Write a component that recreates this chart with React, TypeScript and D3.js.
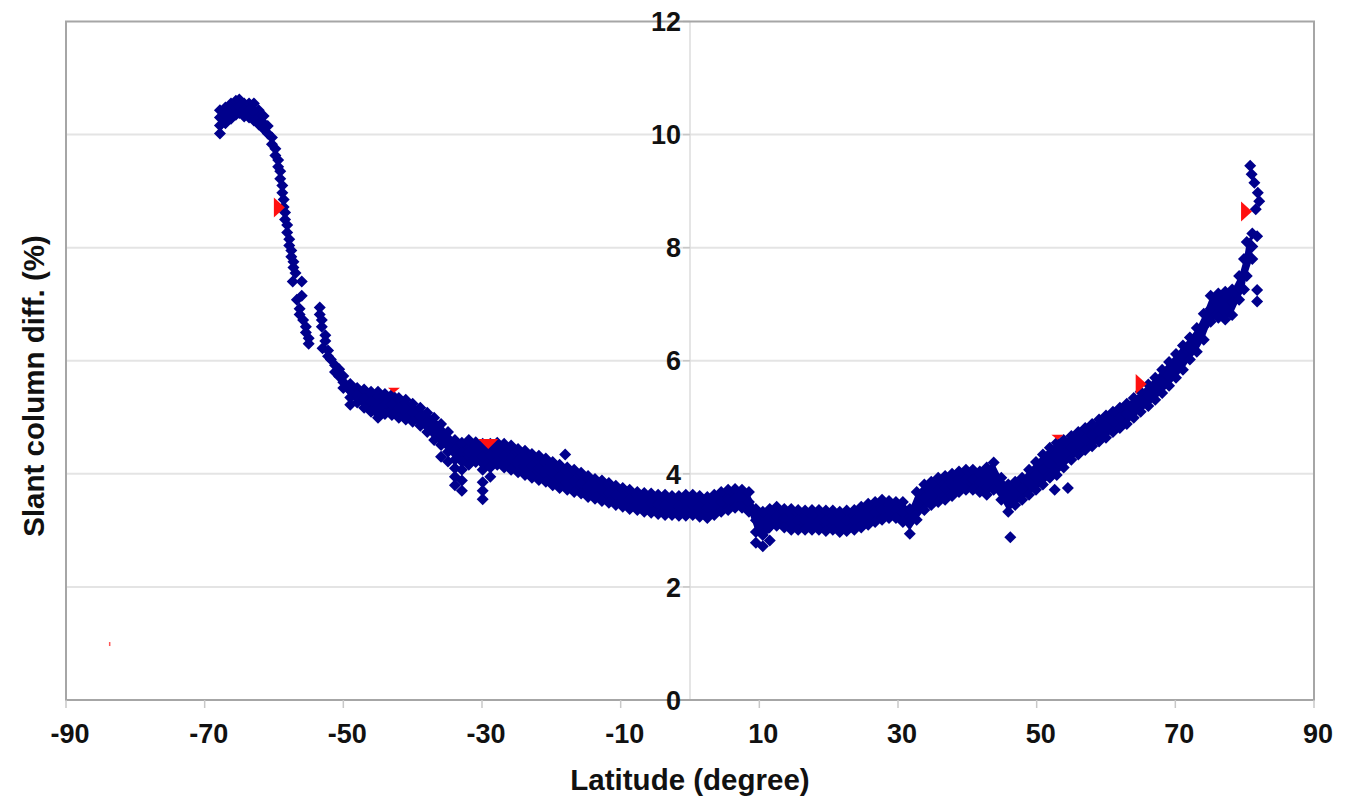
import React from 'react';
import * as d3 from 'd3';

const W = 1352;
const H = 801;

const xTicks = [-90, -70, -50, -30, -10, 10, 30, 50, 70, 90];
const yTicks = [0, 2, 4, 6, 8, 10, 12];
const yGrid = [2, 4, 6, 8, 10];
const xTitle = 'Latitude (degree)';
const yTitle = 'Slant column diff. (%)';

// Blue series: latitude -> values (several per latitude where the cloud is thick)
const slantColumns: [number, number[]][] = [
  [-67.8, [10.43, 10.30, 10.16, 10.02]],
  [-67.0, [10.48, 10.34, 10.20]],
  [-66.2, [10.55, 10.42, 10.28]],
  [-65.5, [10.60, 10.47, 10.35]],
  [-65.0, [10.62, 10.50, 10.38]],
  [-64.3, [10.55, 10.43, 10.32]],
  [-63.6, [10.55, 10.42, 10.30]],
  [-62.9, [10.55, 10.40, 10.25]],
  [-62.2, [10.43, 10.30, 10.18]],
  [-61.5, [10.33, 10.20, 10.10]],
  [-60.9, [10.15, 10.02]],
  [-60.3, [9.95, 9.83]],
  [-59.8, [9.75, 9.63]],
  [-59.4, [9.55, 9.43]],
  [-59.1, [9.35, 9.22]],
  [-58.8, [9.10, 8.97]],
  [-58.6, [8.85, 8.72]],
  [-58.4, [8.62, 8.50]],
  [-58.1, [8.40, 8.27]],
  [-57.8, [8.15, 8.04]],
  [-57.5, [7.95, 7.84]],
  [-57.2, [7.75, 7.65]],
  [-56.9, [7.55]],
  [-57.3, [7.40]],
  [-56.0, [7.40, 7.15]],
  [-56.7, [7.08]],
  [-56.3, [6.92, 6.82]],
  [-55.8, [6.72]],
  [-55.4, [6.60, 6.50]],
  [-55.0, [6.40, 6.30]],
  [-53.4, [6.94, 6.82]],
  [-53.1, [6.72, 6.60]],
  [-52.6, [6.45, 6.35]],
  [-53.0, [6.22]],
  [-52.2, [6.18, 6.08]],
  [-51.8, [6.02]],
  [-51.2, [5.92, 5.80]],
  [-50.6, [5.85, 5.72]],
  [-50.0, [5.73, 5.62, 5.52]],
  [-49.0, [5.59, 5.47, 5.35, 5.22]],
  [-48.0, [5.52, 5.39, 5.26]],
  [-47.0, [5.49, 5.33, 5.17]],
  [-46.0, [5.45, 5.28, 5.10]],
  [-45.0, [5.45, 5.25, 5.06, 4.99]],
  [-44.0, [5.41, 5.23, 5.06]],
  [-43.0, [5.40, 5.22, 5.04]],
  [-42.0, [5.34, 5.16, 4.99]],
  [-41.0, [5.31, 5.13, 4.96]],
  [-40.0, [5.24, 5.08, 4.92]],
  [-38.9, [5.17, 5.01, 4.85]],
  [-37.9, [5.08, 4.91, 4.74]],
  [-36.9, [4.99, 4.80, 4.60]],
  [-35.9, [4.88, 4.70, 4.51, 4.30]],
  [-34.9, [4.74, 4.56, 4.39, 4.22]],
  [-33.9, [4.60, 4.42, 4.25, 4.10, 3.95, 3.80]],
  [-32.9, [4.55, 4.38, 4.22, 4.07, 3.88, 3.70]],
  [-31.9, [4.60, 4.38, 4.16]],
  [-30.9, [4.56, 4.38, 4.21]],
  [-29.9, [4.53, 4.30, 4.07, 3.85, 3.70, 3.55]],
  [-28.8, [4.53, 4.32, 4.11, 3.95]],
  [-27.8, [4.55, 4.35, 4.16]],
  [-26.8, [4.53, 4.32, 4.11]],
  [-25.8, [4.50, 4.28, 4.07]],
  [-24.8, [4.44, 4.23, 4.03]],
  [-23.8, [4.41, 4.20, 3.98]],
  [-22.8, [4.35, 4.14, 3.93]],
  [-21.8, [4.32, 4.10, 3.89]],
  [-20.8, [4.27, 4.06, 3.86]],
  [-19.8, [4.21, 4.00, 3.80]],
  [-18.8, [4.16, 3.95, 3.75]],
  [-18.0, [4.34]],
  [-17.7, [4.11, 3.91, 3.72]],
  [-16.7, [4.07, 3.87, 3.68]],
  [-15.7, [4.02, 3.83, 3.65]],
  [-14.7, [3.96, 3.77, 3.59]],
  [-13.7, [3.91, 3.73, 3.56]],
  [-12.7, [3.88, 3.70, 3.52]],
  [-11.7, [3.84, 3.66, 3.49]],
  [-10.7, [3.79, 3.62, 3.45]],
  [-9.7, [3.75, 3.58, 3.42]],
  [-8.7, [3.72, 3.55, 3.38]],
  [-7.6, [3.68, 3.52, 3.36]],
  [-6.6, [3.66, 3.50, 3.33]],
  [-5.6, [3.65, 3.48, 3.31]],
  [-4.6, [3.63, 3.46, 3.29]],
  [-3.6, [3.63, 3.45, 3.27]],
  [-2.6, [3.61, 3.44, 3.27]],
  [-1.6, [3.61, 3.43, 3.26]],
  [-0.6, [3.63, 3.44, 3.26]],
  [0.4, [3.63, 3.45, 3.27]],
  [1.4, [3.61, 3.42, 3.24]],
  [2.5, [3.59, 3.40, 3.22]],
  [3.5, [3.63, 3.45, 3.27]],
  [4.5, [3.68, 3.50, 3.33]],
  [5.5, [3.72, 3.54, 3.36]],
  [6.5, [3.73, 3.56, 3.40]],
  [7.5, [3.72, 3.56, 3.40]],
  [8.5, [3.68, 3.50, 3.33]],
  [9.5, [3.38, 3.18, 2.97, 2.78]],
  [10.5, [3.33, 3.12, 2.92, 2.72]],
  [11.5, [3.38, 3.10, 2.82]],
  [12.5, [3.42, 3.25, 3.08]],
  [13.6, [3.38, 3.21, 3.05]],
  [14.6, [3.38, 3.20, 3.01]],
  [15.6, [3.36, 3.18, 3.01]],
  [16.6, [3.35, 3.18, 3.01]],
  [17.6, [3.36, 3.18, 3.01]],
  [18.6, [3.36, 3.18, 3.01]],
  [19.6, [3.35, 3.17, 2.99]],
  [20.6, [3.35, 3.18, 3.01]],
  [21.6, [3.33, 3.15, 2.97]],
  [22.6, [3.35, 3.17, 2.99]],
  [23.7, [3.36, 3.18, 3.01]],
  [24.7, [3.42, 3.23, 3.05]],
  [25.7, [3.47, 3.28, 3.10]],
  [26.7, [3.50, 3.32, 3.15]],
  [27.7, [3.54, 3.36, 3.19]],
  [28.7, [3.52, 3.37, 3.22]],
  [29.7, [3.50, 3.36, 3.22]],
  [30.7, [3.50, 3.32, 3.15]],
  [31.7, [3.38, 3.15, 2.94]],
  [32.7, [3.68, 3.44, 3.19]],
  [33.8, [3.81, 3.58, 3.36]],
  [34.8, [3.86, 3.65, 3.45]],
  [35.8, [3.93, 3.72, 3.50]],
  [36.8, [3.96, 3.75, 3.54]],
  [37.8, [4.00, 3.80, 3.61]],
  [38.8, [4.04, 3.86, 3.68]],
  [39.8, [4.07, 3.90, 3.72]],
  [40.8, [4.07, 3.90, 3.72]],
  [41.8, [4.04, 3.86, 3.68]],
  [42.8, [4.11, 3.87, 3.63]],
  [43.8, [4.20, 3.96, 3.72]],
  [44.9, [3.93, 3.73, 3.54]],
  [45.9, [3.81, 3.57, 3.33]],
  [46.2, [2.88]],
  [46.9, [3.86, 3.65, 3.45]],
  [47.9, [3.93, 3.73, 3.54]],
  [48.9, [4.07, 3.85, 3.63]],
  [49.9, [4.21, 3.96, 3.72]],
  [50.9, [4.34, 4.08, 3.81]],
  [51.9, [4.46, 4.20, 3.93]],
  [52.6, [3.72]],
  [52.9, [4.55, 4.27, 3.98]],
  [53.9, [4.60, 4.35, 4.11]],
  [54.5, [3.75]],
  [55.0, [4.67, 4.46, 4.25]],
  [56.0, [4.74, 4.54, 4.34]],
  [57.0, [4.81, 4.62, 4.42]],
  [58.0, [4.88, 4.68, 4.49]],
  [59.0, [4.96, 4.76, 4.57]],
  [60.0, [5.03, 4.84, 4.64]],
  [61.0, [5.10, 4.92, 4.74]],
  [62.0, [5.17, 4.99, 4.81]],
  [63.0, [5.24, 5.06, 4.88]],
  [64.0, [5.34, 5.16, 4.99]],
  [65.0, [5.45, 5.27, 5.10]],
  [66.1, [5.58, 5.39, 5.20]],
  [67.1, [5.70, 5.50, 5.31]],
  [68.1, [5.84, 5.63, 5.43]],
  [69.1, [5.98, 5.77, 5.56]],
  [70.1, [6.12, 5.91, 5.70]],
  [71.1, [6.27, 6.05, 5.84]],
  [72.1, [6.41, 6.22, 6.02]],
  [73.1, [6.58, 6.37, 6.16]],
  [74.1, [6.83, 6.60, 6.37]],
  [75.1, [7.15, 6.92, 6.69]],
  [76.2, [7.19, 6.97, 6.76]],
  [77.2, [7.22, 6.97, 6.73]],
  [78.2, [7.26, 7.04, 6.81]],
  [79.2, [7.50, 7.29, 7.08]],
  [79.9, [7.80, 7.53, 7.26]],
  [80.3, [8.10, 7.80, 7.50]],
  [81.1, [8.25, 8.02, 7.80]],
  [81.8, [8.20, 7.25, 7.05]],
  [80.8, [9.45]],
  [81.0, [9.30]],
  [81.4, [9.15]],
  [81.9, [8.97]],
  [82.1, [8.82]],
  [81.6, [8.68]],
];

// Outline of the densest part of the point cloud: [latitude, top, bottom]
const cloudTopCluster: [number, number, number][] = [
  [-67.8, 10.43, 10.02], [-67.0, 10.48, 10.20], [-66.2, 10.55, 10.28], [-65.5, 10.60, 10.35],
  [-65.0, 10.62, 10.38], [-64.3, 10.55, 10.32], [-63.6, 10.55, 10.30], [-62.9, 10.55, 10.25],
  [-62.2, 10.43, 10.18], [-61.5, 10.33, 10.10], [-60.9, 10.15, 10.02],
];
const cloudMain: [number, number, number][] = [
  [-50.6, 5.85, 5.72], [-50.0, 5.73, 5.52], [-49.0, 5.59, 5.35], [-48.0, 5.52, 5.26], [-47.0, 5.49, 5.17],
  [-46.0, 5.45, 5.10], [-45.0, 5.45, 5.06], [-44.0, 5.41, 5.06], [-43.0, 5.40, 5.04], [-42.0, 5.34, 4.99],
  [-41.0, 5.31, 4.96], [-40.0, 5.24, 4.92], [-38.9, 5.17, 4.85], [-37.9, 5.08, 4.74], [-36.9, 4.99, 4.60],
  [-35.9, 4.88, 4.51], [-34.9, 4.74, 4.39], [-33.9, 4.60, 4.25], [-32.9, 4.55, 4.22], [-31.9, 4.60, 4.16],
  [-30.9, 4.56, 4.21], [-29.9, 4.53, 4.07], [-28.8, 4.53, 4.11], [-27.8, 4.55, 4.16], [-26.8, 4.53, 4.11],
  [-25.8, 4.50, 4.07], [-24.8, 4.44, 4.03], [-23.8, 4.41, 3.98], [-22.8, 4.35, 3.93], [-21.8, 4.32, 3.89],
  [-20.8, 4.27, 3.86], [-19.8, 4.21, 3.80], [-18.8, 4.16, 3.75], [-17.7, 4.11, 3.72], [-16.7, 4.07, 3.68],
  [-15.7, 4.02, 3.65], [-14.7, 3.96, 3.59], [-13.7, 3.91, 3.56], [-12.7, 3.88, 3.52], [-11.7, 3.84, 3.49],
  [-10.7, 3.79, 3.45], [-9.7, 3.75, 3.42], [-8.7, 3.72, 3.38], [-7.6, 3.68, 3.36], [-6.6, 3.66, 3.33],
  [-5.6, 3.65, 3.31], [-4.6, 3.63, 3.29], [-3.6, 3.63, 3.27], [-2.6, 3.61, 3.27], [-1.6, 3.61, 3.26],
  [-0.6, 3.63, 3.26], [0.4, 3.63, 3.27], [1.4, 3.61, 3.24], [2.5, 3.59, 3.22], [3.5, 3.63, 3.27],
  [4.5, 3.68, 3.33], [5.5, 3.72, 3.36], [6.5, 3.73, 3.40], [7.5, 3.72, 3.40], [8.5, 3.68, 3.33],
  [9.5, 3.38, 2.97], [10.5, 3.33, 2.92], [11.5, 3.38, 2.95], [12.5, 3.42, 3.08], [13.6, 3.38, 3.05],
  [14.6, 3.38, 3.01], [15.6, 3.36, 3.01], [16.6, 3.35, 3.01], [17.6, 3.36, 3.01], [18.6, 3.36, 3.01],
  [19.6, 3.35, 2.99], [20.6, 3.35, 3.01], [21.6, 3.33, 2.97], [22.6, 3.35, 2.99], [23.7, 3.36, 3.01],
  [24.7, 3.42, 3.05], [25.7, 3.47, 3.10], [26.7, 3.50, 3.15], [27.7, 3.54, 3.19], [28.7, 3.52, 3.22],
  [29.7, 3.50, 3.22], [30.7, 3.50, 3.15], [31.7, 3.38, 3.00], [32.7, 3.68, 3.19], [33.8, 3.81, 3.36],
  [34.8, 3.86, 3.45], [35.8, 3.93, 3.50], [36.8, 3.96, 3.54], [37.8, 4.00, 3.61], [38.8, 4.04, 3.68],
  [39.8, 4.07, 3.72], [40.8, 4.07, 3.72], [41.8, 4.04, 3.68], [42.8, 4.11, 3.63], [43.8, 4.20, 3.72],
  [44.9, 3.93, 3.54], [45.9, 3.81, 3.33], [46.9, 3.86, 3.45], [47.9, 3.93, 3.54], [48.9, 4.07, 3.63],
  [49.9, 4.21, 3.72], [50.9, 4.34, 3.81], [51.9, 4.46, 3.93], [52.9, 4.55, 3.98], [53.9, 4.60, 4.11],
  [55.0, 4.67, 4.25], [56.0, 4.74, 4.34], [57.0, 4.81, 4.42], [58.0, 4.88, 4.49], [59.0, 4.96, 4.57],
  [60.0, 5.03, 4.64], [61.0, 5.10, 4.74], [62.0, 5.17, 4.81], [63.0, 5.24, 4.88], [64.0, 5.34, 4.99],
  [65.0, 5.45, 5.10], [66.1, 5.58, 5.20], [67.1, 5.70, 5.31], [68.1, 5.84, 5.43], [69.1, 5.98, 5.56],
  [70.1, 6.12, 5.70], [71.1, 6.27, 5.84], [72.1, 6.41, 6.02], [73.1, 6.58, 6.16], [74.1, 6.83, 6.37],
  [75.1, 7.15, 6.69], [76.2, 7.19, 6.76], [77.2, 7.22, 6.73], [78.2, 7.26, 6.81], [79.2, 7.50, 7.08],
  [79.9, 7.80, 7.26], [80.3, 8.10, 7.50], [81.1, 8.25, 7.80],
];

// Red series
const redRight: [number, number][] = [[-59.3, 8.71], [65.0, 5.59], [80.2, 8.64]];
const redDown: [number, number][] = [[-29.1, 4.51]];
const redSliver: [number, number][] = [[-42.7, 5.47], [53.0, 4.64]];
const redSpeck: [number, number][] = [[-83.7, 0.99]];

export default function App() {
  const x = d3.scaleLinear().domain([-90, 90]).range([66, 1314]);
  const y = d3.scaleLinear().domain([0, 12]).range([700, 21.5]);
  const diamond = d3.symbol().type(d3.symbolSquare).size(72)() as string;
  const points = slantColumns.flatMap(([lat, vs]) => vs.map((v) => [lat, v] as [number, number]));
  const area = d3
    .area<[number, number, number]>()
    .x((d) => x(d[0]))
    .y0((d) => y(d[2]))
    .y1((d) => y(d[1]))
    .curve(d3.curveLinear);
  const font = "'Liberation Sans', Arial, Helvetica, sans-serif";
  const blue = '#00008c';
  const red = '#ff1010';
  const x0 = x(0);

  return (
    <svg width={W} height={H} style={{ position: 'absolute', left: 0, top: 0, display: 'block', background: '#fff' }}>
      <rect x={0} y={0} width={W} height={H} fill="#fff" />
      {yGrid.map((t) => (
        <line key={'g' + t} x1={x(-90)} x2={x(90)} y1={y(t)} y2={y(t)} stroke="#e4e4e4" strokeWidth={2} />
      ))}
      <line x1={x0} x2={x0} y1={y(12)} y2={y(0)} stroke="#dcdcdc" strokeWidth={1.5} />
      {yTicks.map((t) => (
        <line key={'yt' + t} x1={x0 - 7} x2={x0} y1={y(t)} y2={y(t)} stroke="#c8c8c8" strokeWidth={1.5} />
      ))}
      <rect x={x(-90)} y={y(12)} width={x(90) - x(-90)} height={y(0) - y(12)} fill="none" stroke="#a6a6a6" strokeWidth={2} />
      {xTicks.map((t) => (
        <line key={'xt' + t} x1={x(t)} x2={x(t)} y1={y(0)} y2={y(0) + 8} stroke="#c8c8c8" strokeWidth={1.5} />
      ))}
      <path d={area(cloudTopCluster) as string} fill={blue} />
      <path d={area(cloudMain) as string} fill={blue} />
      {points.map(([lat, v], i) => (
        <path key={'b' + i} d={diamond} transform={`translate(${x(lat)},${y(v)}) rotate(45)`} fill={blue} />
      ))}
      {redRight.map(([lat, v], i) => {
        const cx = x(lat), cy = y(v);
        return <path key={'rr' + i} d={`M${cx - 5},${cy - 10}L${cx + 6},${cy}L${cx - 5},${cy + 10}Z`} fill={red} />;
      })}
      {redDown.map(([lat, v], i) => {
        const cx = x(lat), cy = y(v);
        return <path key={'rd' + i} d={`M${cx - 10},${cy - 6}L${cx + 10},${cy - 6}L${cx},${cy + 4}Z`} fill={red} />;
      })}
      {redSliver.map(([lat, v], i) => {
        const cx = x(lat), cy = y(v);
        return <path key={'rv' + i} d={`M${cx - 6},${cy - 3}L${cx + 6},${cy - 3}L${cx},${cy + 2}Z`} fill={red} />;
      })}
      {redSpeck.map(([lat, v], i) => (
        <rect key={'rs' + i} x={x(lat) - 0.75} y={y(v) - 2} width={1.5} height={4} fill={red} opacity={0.7} />
      ))}
      {yTicks.map((t) => (
        <text key={'yl' + t} x={x0 - 9} y={y(t)} dy="0.36em" textAnchor="end" fontFamily={font} fontWeight="bold" fontSize={27} fill="#111">
          {t}
        </text>
      ))}
      {xTicks.map((t) => (
        <text key={'xl' + t} x={x(t) + 4} y={743} textAnchor="middle" fontFamily={font} fontWeight="bold" fontSize={27} fill="#111">
          {t}
        </text>
      ))}
      <text x={690} y={790} textAnchor="middle" fontFamily={font} fontWeight="bold" fontSize={29.5} fill="#111">
        {xTitle}
      </text>
      <text transform={`translate(44,386) rotate(-90)`} textAnchor="middle" fontFamily={font} fontWeight="bold" fontSize={29.5} fill="#111">
        {yTitle}
      </text>
    </svg>
  );
}
